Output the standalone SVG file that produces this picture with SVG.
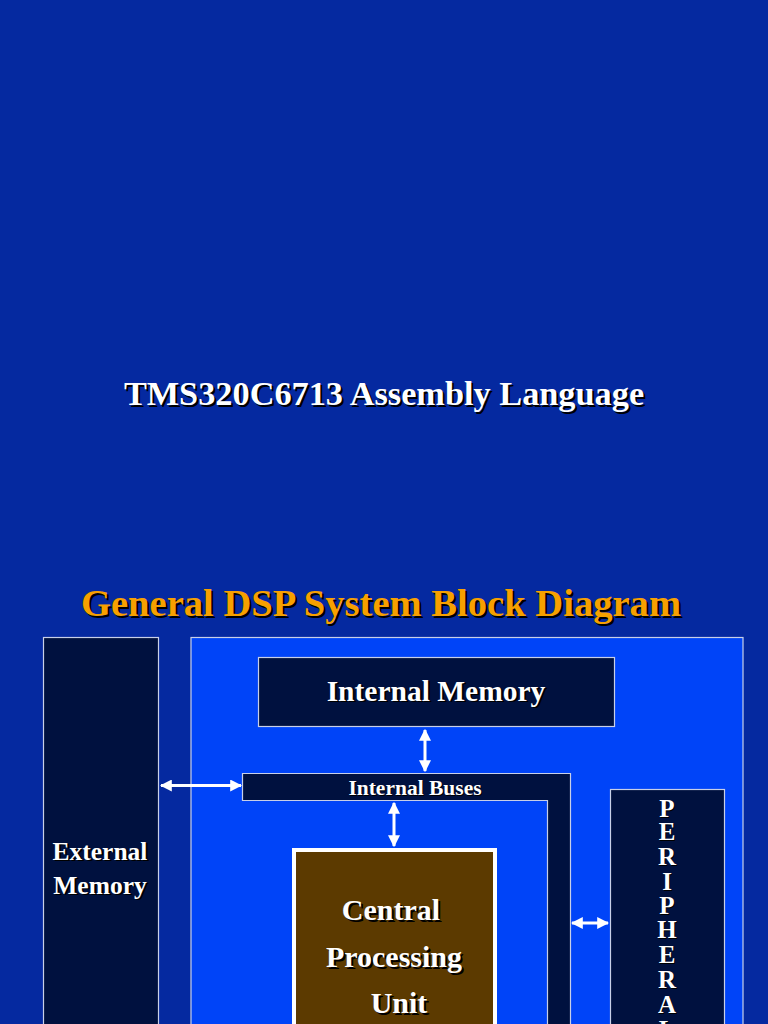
<svg xmlns="http://www.w3.org/2000/svg" width="768" height="1024" viewBox="0 0 768 1024">
<defs>
<style>
.t{font-family:"Liberation Serif","Times New Roman",serif;font-weight:bold;fill:#ffffff;text-anchor:middle}
.sh{fill:#000000}
.box{fill:#00113f;stroke:#c8d0e8;stroke-width:1.2}
.ar{stroke:#ffffff;stroke-width:3;fill:none}
</style>
<marker id="ah" viewBox="0 0 10 10" refX="9" refY="5" markerWidth="4" markerHeight="4" orient="auto-start-reverse" markerUnits="strokeWidth">
<path d="M0,0 L10,5 L0,10 z" fill="#ffffff"/>
</marker>
</defs>
<rect width="768" height="1024" fill="#0529a0"/>
<g id="title">
<text class="t sh" x="386" y="407" font-size="34.3">TMS320C6713 Assembly Language</text>
<text class="t" x="384" y="405" font-size="34.3">TMS320C6713 Assembly Language</text>
</g>
<g id="heading">
<text class="t sh" x="383" y="618" font-size="38.6">General DSP System Block Diagram</text>
<text class="t" x="381" y="616" font-size="38.6" style="fill:#f7a000">General DSP System Block Diagram</text>
</g>
<g id="system">
<rect x="191" y="637.5" width="552" height="400" fill="#0044f8" stroke="#c8d0e8" stroke-width="1.2"/>
</g>
<g id="external-memory">
<rect class="box" x="43.5" y="637.5" width="115" height="400"/>
<text class="t sh" x="102" y="861" font-size="25.5">External</text>
<text class="t" x="100" y="860" font-size="25.5">External</text>
<text class="t sh" x="102" y="895" font-size="25.5">Memory</text>
<text class="t" x="100" y="894" font-size="25.5">Memory</text>
</g>
<g id="internal-memory">
<rect class="box" x="258.5" y="657.5" width="356" height="69"/>
<text class="t sh" x="438" y="702" font-size="29.5">Internal Memory</text>
<text class="t" x="436" y="701" font-size="29.5">Internal Memory</text>
</g>
<g id="internal-buses">
<path class="box" d="M242.5,773.5 H570.5 V1040 H547.5 V800.5 H242.5 Z"/>
<text class="t sh" x="416" y="796" font-size="21.5">Internal Buses</text>
<text class="t" x="415" y="795" font-size="21.5">Internal Buses</text>
</g>
<g id="peripherals">
<rect class="box" x="610.5" y="789.5" width="114" height="250"/>
<g font-size="25">
<text class="t sh" x="668" y="818">P</text><text class="t" x="667" y="817">P</text>
<text class="t sh" x="668" y="841">E</text><text class="t" x="667" y="840">E</text>
<text class="t sh" x="668" y="866">R</text><text class="t" x="667" y="865">R</text>
<text class="t sh" x="668" y="891">I</text><text class="t" x="667" y="890">I</text>
<text class="t sh" x="668" y="915">P</text><text class="t" x="667" y="914">P</text>
<text class="t sh" x="668" y="939">H</text><text class="t" x="667" y="938">H</text>
<text class="t sh" x="668" y="964">E</text><text class="t" x="667" y="963">E</text>
<text class="t sh" x="668" y="989">R</text><text class="t" x="667" y="988">R</text>
<text class="t sh" x="668" y="1014">A</text><text class="t" x="667" y="1013">A</text>
<text class="t sh" x="668" y="1039">L</text><text class="t" x="667" y="1038">L</text>
</g>
</g>
<g id="cpu">
<rect x="294" y="850" width="201" height="200" fill="#5c3a00" stroke="#ffffff" stroke-width="4"/>
<text class="t sh" x="393" y="922" font-size="30">Central</text>
<text class="t" x="391" y="920" font-size="30">Central</text>
<text class="t sh" x="396" y="969" font-size="30">Processing</text>
<text class="t" x="394" y="967" font-size="30">Processing</text>
<text class="t sh" x="401" y="1015" font-size="30">Unit</text>
<text class="t" x="399" y="1013" font-size="30">Unit</text>
</g>
<g id="connectors">
<line class="ar" x1="425" y1="730" x2="425" y2="771" marker-start="url(#ah)" marker-end="url(#ah)"/>
<line class="ar" x1="394" y1="803" x2="394" y2="846" marker-start="url(#ah)" marker-end="url(#ah)"/>
<line class="ar" x1="161" y1="785.5" x2="241" y2="785.5" marker-start="url(#ah)" marker-end="url(#ah)"/>
<line class="ar" x1="572" y1="923" x2="608" y2="923" marker-start="url(#ah)" marker-end="url(#ah)"/>
</g>
</svg>
